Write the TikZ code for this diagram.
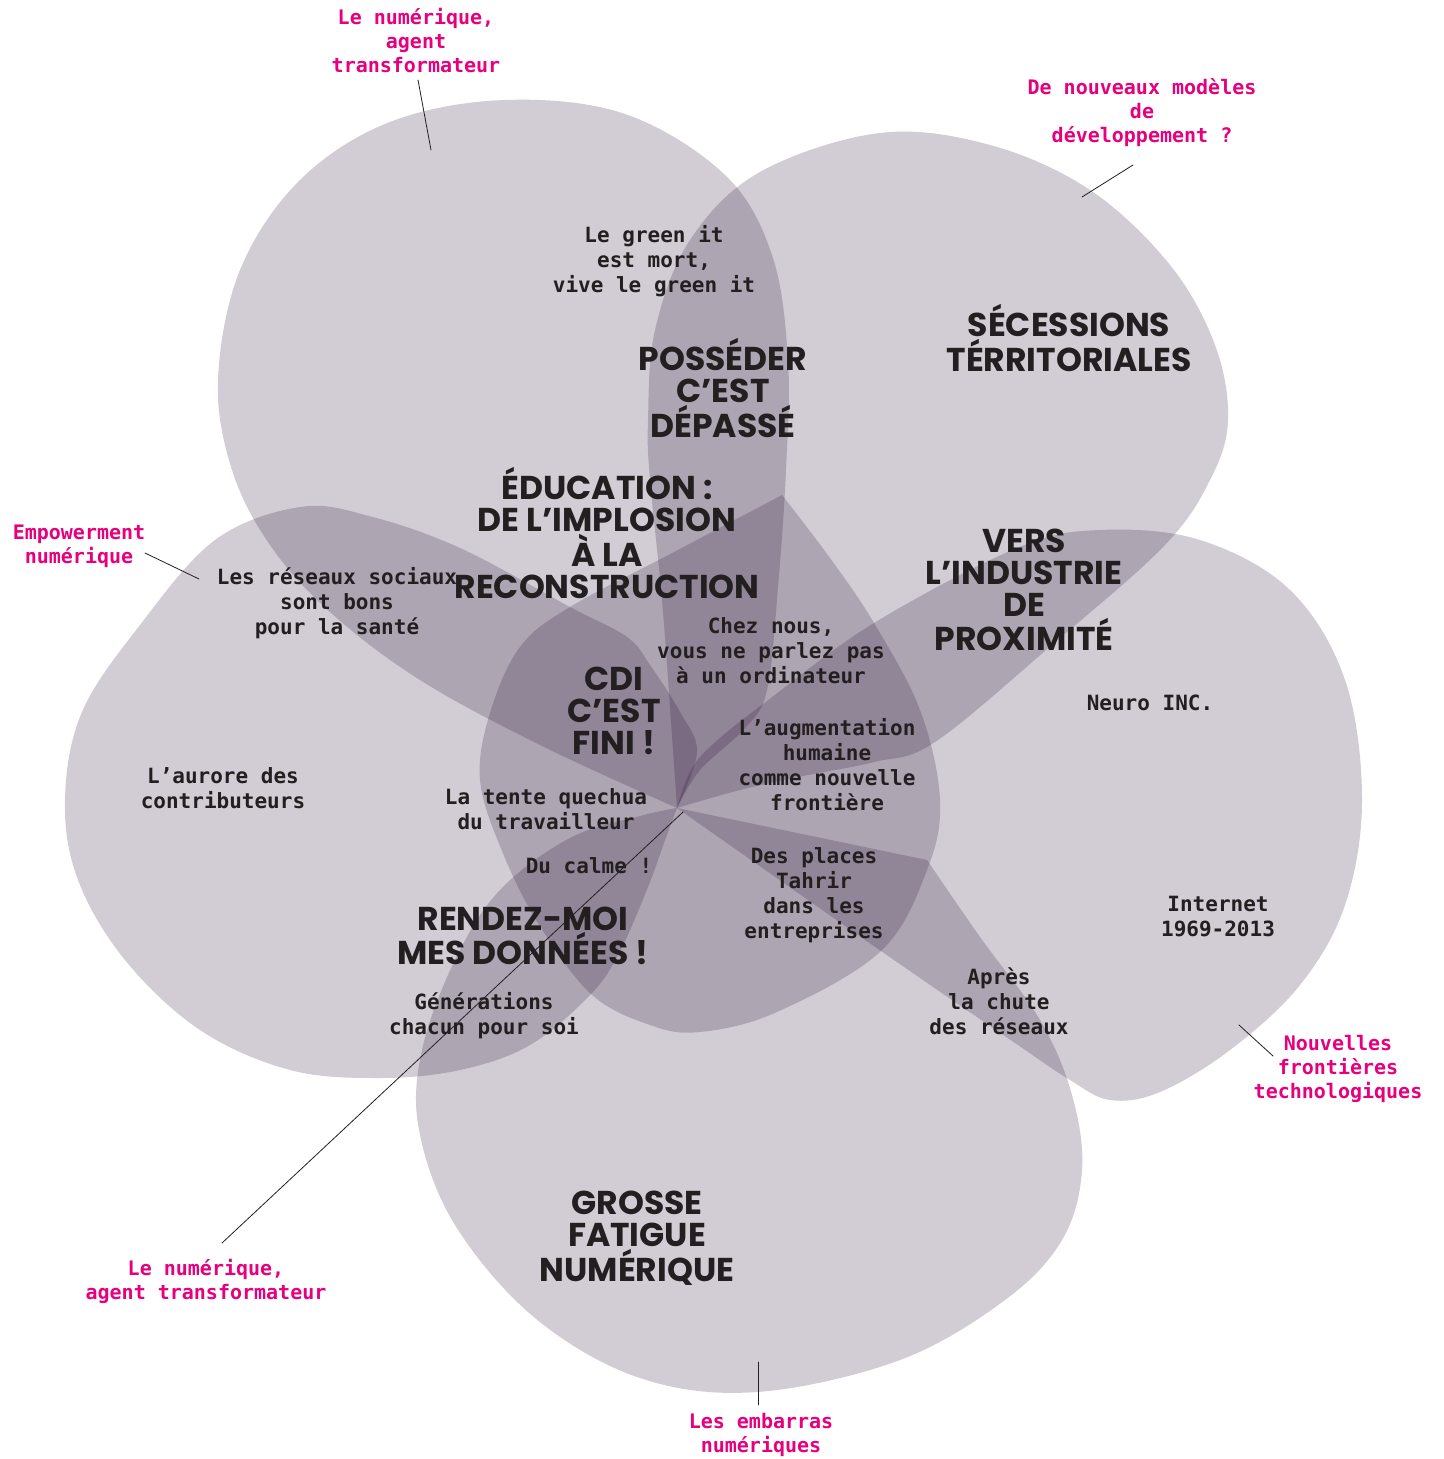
\documentclass[tikz,border=0pt]{standalone}
\usepackage{fontspec}
\usetikzlibrary{calc}
\newfontfamily\monofont{DejaVu Sans Mono}
\newfontfamily\titlefont{Poppins}
\definecolor{petal}{RGB}{30,5,45}
\definecolor{rose}{RGB}{230,0,126}
\definecolor{ink}{RGB}{35,31,32}
\begin{document}
\begin{tikzpicture}[x=0.5pt, y=-0.5pt, line join=round, line cap=round,
    petal/.style={fill=petal, fill opacity=0.2},
    txt/.style={font=\monofont\bfseries\fontsize{10.5}{12.5}\selectfont, text=ink, align=center, inner sep=1pt},
    head/.style={font=\titlefont\bfseries\fontsize{16.5}{16}\selectfont, text=ink, align=center, inner sep=1pt},
    tag/.style={font=\monofont\bfseries\fontsize{10}{12}\selectfont, text=rose, align=center, inner sep=1pt},
    pin/.style={draw=ink, line width=0.4pt}]
    \useasboundingbox[fill=white] (0,0) rectangle (1443,1459);
    \coordinate (ctr) at (677,808);
    \coordinate (core) at (683,812);
    % petals
    \fill[petal] plot[smooth, tension=0.6] coordinates {(ctr) (700,770) (745,728) (767,690) (778,587) (786,470) (788,360) (772,255) (725,175) (625,114) (505,100) (390,122) (300,180) (240,270) (218,380) (232,470) (270,545) (330,612) (420,680) (540,745) (ctr)} -- cycle;
    \fill[petal] plot[smooth, tension=0.6] coordinates {(ctr) (673,750) (662,600) (650,480) (648,420) (655,330) (690,240) (760,172) (880,133) (990,145) (1090,190) (1170,265) (1215,345) (1228,420) (1210,480) (1164,546) (1053,644) (935,742) (874,762) (803,776) (740,790) (ctr)} -- cycle;
    \fill[petal] plot[smooth, tension=0.6] coordinates {(ctr) (690,772) (712,745) (767,701) (874,623) (1017,548) (1100,530) (1200,540) (1290,590) (1345,680) (1362,800) (1345,905) (1300,985) (1230,1050) (1160,1092) (1110,1100) (1070,1080) (1015,1043) (881,951) (ctr)} -- cycle;
    \fill[petal] (ctr) -- plot[smooth, tension=0.6] coordinates {(927,860) (980,937) (1040,1020) (1072,1095) (1082,1170) (1062,1240) (1005,1300) (900,1360) (757,1392) (640,1378) (535,1318) (455,1225) (419,1130) (422,1050) (455,960) (500,890) (570,838) (640,816) (ctr)} -- cycle;
    \fill[petal] plot[smooth, tension=0.6] coordinates {(ctr) (697,752) (680,712) (650,665) (627,637) (570,607) (460,548) (369,516) (300,507) (215,540) (140,625) (82,712) (65,800) (78,880) (125,960) (200,1030) (290,1070) (380,1078) (460,1070) (530,1045) (591,994) (620,951) (648,887) (665,840) (ctr)} -- cycle;
    \fill[petal] plot[smooth, tension=0.6] coordinates {(782,495) (676,551) (570,607) (520,647) (490,713) (480,780) (502,851) (538,923) (591,994) (650,1025) (700,1032) (777,1012) (881,951) (927,870) (940,800) (920,710) (874,623) (830,558) (782,495)} -- cycle;
    % titles
    \node[head] (h-posseder) at (723,388) {POSSÉDER\\C’EST\\DÉPASSÉ};
    \node[head] (h-secessions) at (1069,338) {SÉCESSIONS\\TÉRRITORIALES};
    \node[head] (h-education) at (607,533) {ÉDUCATION :\\DE L’IMPLOSION\\À LA\\RECONSTRUCTION};
    \node[head] (h-industrie) at (1024,590) {VERS\\L’INDUSTRIE\\DE\\PROXIMITÉ};
    \node[head] (h-cdi) at (614,711) {CDI\\C’EST\\FINI !};
    \node[head] (h-rendez) at (523,936) {RENDEZ-MOI\\MES DONNÉES !};
    \node[head] (h-fatigue) at (637,1238) {GROSSE\\FATIGUE\\NUMÉRIQUE};
    % small texts
    \node[txt] (t-green) at (654,261) {Le green it\\est mort,\\vive le green it};
    \node[txt] (t-reseaux) at (337,603) {Les réseaux sociaux\\sont bons\\pour la santé};
    \node[txt] (t-chez) at (771,651) {Chez nous,\\vous ne parlez pas\\à un ordinateur};
    \node[txt] (t-augm) at (827,765) {L’augmentation\\humaine\\comme nouvelle\\frontière};
    \node[txt] (t-neuro) at (1150,703) {Neuro INC.};
    \node[txt] (t-aurore) at (223,788) {L’aurore des\\contributeurs};
    \node[txt] (t-tente) at (546,809) {La tente quechua\\du travailleur};
    \node[txt] (t-calme) at (589,866) {Du calme !};
    \node[txt] (t-tahrir) at (814,895) {Des places\\Tahrir\\dans les\\entreprises};
    \node[txt] (t-internet) at (1218,917) {Internet\\1969-2013};
    \node[txt] (t-apres) at (999,1001) {Après\\la chute\\des réseaux};
    \node[txt] (t-gener) at (484,1016) {Générations\\chacun pour soi};
    % outer labels
    \node[tag] (lab-top) at (416,41) {Le numérique,\\agent\\transformateur};
    \node[tag] (lab-dev) at (1142,113) {De nouveaux modèles\\de\\développement ?};
    \node[tag] (lab-emp) at (79,546) {Empowerment\\numérique};
    \node[tag] (lab-nft) at (1338,1069) {Nouvelles\\frontières\\technologiques};
    \node[tag] (lab-emb) at (761,1435) {Les embarras\\numériques};
    \node[tag] (lab-agt) at (206,1281) {Le numérique,\\agent transformateur};
    \coordinate (pin-top) at (431,150);
    \coordinate (pin-dev) at (1082,197);
    \coordinate (pin-emp) at (199,579);
    \coordinate (pin-nft) at (1239,1025);
    \coordinate (pin-emb) at (758,1362);
    \draw[pin] ($(lab-top)+(2,39)$) -- (pin-top);
    \draw[pin] ($(lab-dev)+(-9,52)$) -- (pin-dev);
    \draw[pin] ($(lab-emp)+(66,7)$) -- (pin-emp);
    \draw[pin] ($(lab-nft)+(-65,-13)$) -- (pin-nft);
    \draw[pin] ($(lab-emb)+(-3,-30)$) -- (pin-emb);
    \draw[pin] ($(lab-agt)+(16,-38)$) -- (core);
\end{tikzpicture}
\end{document}
